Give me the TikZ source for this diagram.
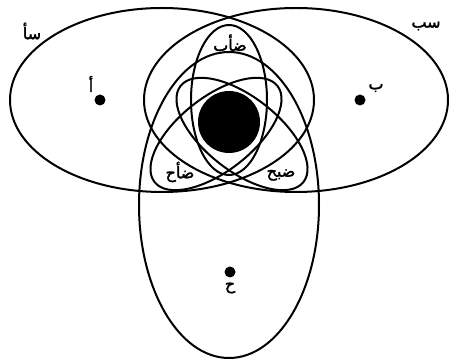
\documentclass[tikz,border=0pt]{standalone}
\usepackage{fontspec}
\newfontfamily\arabicfont[Script=Arabic,FakeBold=2]{DejaVu Sans}
\TeXXeTstate=1
\newcommand{\ar}[1]{{\arabicfont\beginR #1\endR}}
\begin{document}
\begin{tikzpicture}[x=1pt,y=1pt,
  curve/.style={line width=2pt},
  dotmark/.style={circle,fill=black,inner sep=0pt,minimum size=11pt},
  lab/.style={inner sep=0pt,font=\fontsize{16}{18}\selectfont}]
\useasboundingbox (0,0) rectangle (450,364);
% big ellipses
\draw[curve] (162,264) ellipse [x radius=152pt, y radius=92pt];
\draw[curve] (296,264) ellipse [x radius=152pt, y radius=92pt];
\draw[curve] (229,159) ellipse [x radius=90pt, y radius=153pt];
% inner ellipses
\draw[curve] (229,264) ellipse [x radius=38pt, y radius=75pt];
\draw[curve, rotate around={38:(216,230)}] (216,230) ellipse [x radius=78pt, y radius=37pt];
\draw[curve, rotate around={-38:(242,230)}] (242,230) ellipse [x radius=78pt, y radius=37pt];
% black disk
\fill (229,242) circle [radius=31pt];
% points
\node[dotmark] (A) at (100,264) {};
\node[dotmark] (B) at (360,264) {};
\node[dotmark] (C) at (230,92) {};
% labels
\node[lab] (la) at (91,280) {\ar{أ}};
\node[lab] (lb) at (376,276) {\ar{ب}};
\node[lab] (lc) at (230,76) {\ar{ح}};
\node[lab] (sa) at (32,333) {\ar{سأ}};
\node[lab] (sb) at (426,338) {\ar{سب}};
\node[lab] (dab) at (230,320) {\ar{ضأب}};
\node[lab] (dac) at (180,192) {\ar{ضأح}};
\node[lab] (dbc) at (281,189) {\ar{ضبح}};
\end{tikzpicture}
\end{document}
